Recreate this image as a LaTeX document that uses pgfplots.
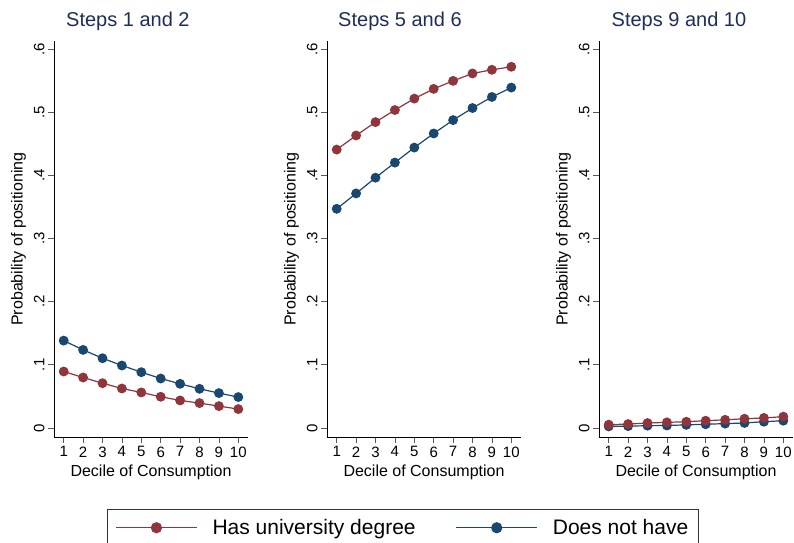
\documentclass[border=0pt]{standalone}
\usepackage{pgfplots}
\pgfplotsset{compat=1.18}
\usepackage{pgfplotstable}
\usepackage{fontspec}
\setmainfont{Liberation Sans}
\definecolor{sred}{RGB}{144,53,59}
\definecolor{sblue}{RGB}{26,71,111}
\definecolor{stitle}{RGB}{30,45,90}

\pgfplotstableread{
x red blue
1 0.0895 0.1384
2 0.0800 0.1237
3 0.0710 0.1105
4 0.0626 0.0990
5 0.0563 0.0884
6 0.0495 0.0784
7 0.0437 0.0700
8 0.0395 0.0621
9 0.0347 0.0553
10 0.0300 0.0490
}\stepsA

\pgfplotstableread{
x red blue
1 0.4408 0.3470
2 0.4631 0.3714
3 0.4843 0.3963
4 0.5034 0.4202
5 0.5215 0.4440
6 0.5369 0.4663
7 0.5496 0.4875
8 0.5613 0.5066
9 0.5671 0.5241
10 0.5719 0.5390
}\stepsB

\pgfplotstableread{
x red blue
1 0.0053 0.0026
2 0.0063 0.0030
3 0.0079 0.0037
4 0.0090 0.0040
5 0.0100 0.0050
6 0.0116 0.0060
7 0.0130 0.0070
8 0.0147 0.0080
9 0.0160 0.0100
10 0.0180 0.0116
}\stepsC

\pgfplotsset{
  panel/.style={
    scale only axis, width=194pt, height=396pt, anchor=south west,
    xmin=0.5, xmax=10.5, ymin=-0.0142, ymax=0.6127,
    axis lines*=left,
    axis line style={black, line width=0.9pt},
    xtick={1,2,3,4,5,6,7,8,9,10},
    ytick={0,0.1,0.2,0.3,0.4,0.5,0.6},
    yticklabels={0,.1,.2,.3,.4,.5,.6},
    tick align=outside, major tick length=6pt,
    tick style={black!65, line width=0.8pt},
    /pgf/number format/assume math mode=true,
    ticklabel style={font=\fontsize{15}{18}\selectfont},
    yticklabel style={rotate=90, anchor=south},
    xlabel={Decile of Consumption}, ylabel={Probability of positioning},
    label style={font=\fontsize{16}{19}\selectfont},
    xlabel style={at={(axis description cs:0.5,-0.0884)}, anchor=center},
    ylabel style={at={(axis description cs:-0.183,0.5)}, anchor=center},
    title style={anchor=base, font=\fontsize{20}{24}\selectfont, text=stitle},
    clip=false,
  },
  redline/.style={sred, line width=1.2pt, mark=*, mark size=4.3pt, mark options={fill=sred, draw=sred}},
  blueline/.style={sblue, line width=1.2pt, mark=*, mark size=4.3pt, mark options={fill=sblue, draw=sblue}},
}

\begin{document}
\begin{tikzpicture}
\begin{axis}[panel, at={(54pt,105pt)},
  title={Steps 1 and 2}, title style={at={(axis description cs:0.381,1.0227)}},
  legend columns=2,
  legend style={at={(axis description cs:0.273,-0.1818)}, anchor=north west,
    draw=black!80, line width=0.8pt, font=\fontsize{21}{25}\selectfont,
    inner xsep=8pt, inner ysep=8pt,
    /tikz/every odd column/.append style={column sep=13pt},
    /tikz/every even column/.append style={column sep=38pt}},
  legend image code/.code={\draw[mark repeat=2,mark phase=2,#1,mark size=5pt] plot coordinates {(0pt,0pt) (40.5pt,0pt) (81pt,0pt)};},
]
\addplot[redline] table[x=x,y=red]{\stepsA};
\addlegendentry{Has university degree}
\addplot[blueline] table[x=x,y=blue]{\stepsA};
\addlegendentry{Does not have}
\end{axis}

\begin{axis}[panel, at={(327pt,105pt)},
  title={Steps 5 and 6}, title style={at={(axis description cs:0.376,1.0227)}}]
\addplot[redline] table[x=x,y=red]{\stepsB};
\addplot[blueline] table[x=x,y=blue]{\stepsB};
\end{axis}

\begin{axis}[panel, at={(599pt,105pt)},
  title={Steps 9 and 10}, title style={at={(axis description cs:0.412,1.0227)}}]
\addplot[blueline] table[x=x,y=blue]{\stepsC};
\addplot[redline] table[x=x,y=red]{\stepsC};
\end{axis}

\pgfresetboundingbox
\path[use as bounding box] (0pt,0pt) rectangle (794pt,542pt);
\end{tikzpicture}
\end{document}
